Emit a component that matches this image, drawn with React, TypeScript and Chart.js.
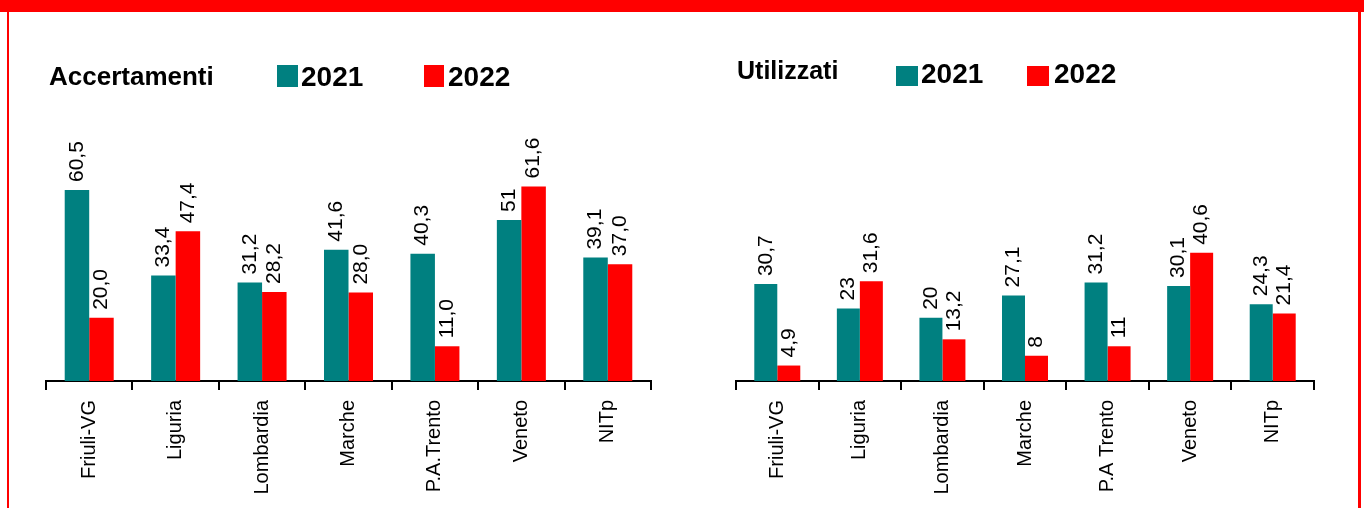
import React, { useEffect, useRef } from "react";
import { Chart, registerables } from "chart.js";

Chart.register(...registerables);

// ---------- DATA ----------
const categoriesAccertamenti = ["Friuli-VG", "Liguria", "Lombardia", "Marche", "P.A.Trento", "Veneto", "NITp"];
const categoriesUtilizzati = ["Friuli-VG", "Liguria", "Lombardia", "Marche", "P.A Trento", "Veneto", "NITp"];
const seriesNames = ["2021", "2022"];

const accertamenti2021 = [60.5, 33.4, 31.2, 41.6, 40.3, 51, 39.1];
const accertamenti2022 = [20.0, 47.4, 28.2, 28.0, 11.0, 61.6, 37.0];
const accertamenti2021Labels = ["60,5", "33,4", "31,2", "41,6", "40,3", "51", "39,1"];
const accertamenti2022Labels = ["20,0", "47,4", "28,2", "28,0", "11,0", "61,6", "37,0"];

const utilizzati2021 = [30.7, 23, 20, 27.1, 31.2, 30.1, 24.3];
const utilizzati2022 = [4.9, 31.6, 13.2, 8, 11, 40.6, 21.4];
const utilizzati2021Labels = ["30,7", "23", "20", "27,1", "31,2", "30,1", "24,3"];
const utilizzati2022Labels = ["4,9", "31,6", "13,2", "8", "11", "40,6", "21,4"];

const TEAL = "#008080";
const RED = "#FF0000";
const FONT = '"Liberation Sans", Arial, sans-serif';

// ---------- PLUGINS ----------
const valueLabelPlugin = {
  id: "valueLabels",
  afterDatasetsDraw(chart: any, _args: any, opts: any) {
    const ctx = chart.ctx;
    ctx.save();
    ctx.fillStyle = "#000";
    ctx.font = `${opts.size}px ${FONT}`;
    ctx.textAlign = "left";
    ctx.textBaseline = "middle";
    chart.data.datasets.forEach((ds: any, i: number) => {
      const meta = chart.getDatasetMeta(i);
      meta.data.forEach((bar: any, j: number) => {
        const txt = ds.valueLabels[j];
        ctx.save();
        ctx.translate(bar.x, bar.y - opts.gap);
        ctx.rotate(-Math.PI / 2);
        ctx.fillText(txt, 0, 0);
        ctx.restore();
      });
    });
    ctx.restore();
  },
};

const headerPlugin = {
  id: "header",
  afterDraw(chart: any, _args: any, opts: any) {
    const ctx = chart.ctx;
    ctx.save();
    ctx.textAlign = "left";
    ctx.textBaseline = "alphabetic";
    ctx.fillStyle = "#000";
    ctx.font = `bold ${opts.titleSize}px ${FONT}`;
    ctx.fillText(opts.title, opts.titleX, opts.titleY);
    chart.data.datasets.forEach((ds: any, i: number) => {
      const it = opts.items[i];
      ctx.fillStyle = ds.backgroundColor;
      ctx.fillRect(it.boxX, it.boxY, it.boxW, it.boxH);
      ctx.fillStyle = "#000";
      ctx.font = `bold ${opts.legendSize}px ${FONT}`;
      ctx.fillText(ds.label, it.textX, it.textY);
    });
    ctx.restore();
  },
};

type PanelProps = {
  left: number;
  width: number;
  categories: string[];
  v2021: number[];
  v2022: number[];
  l2021: string[];
  l2022: string[];
  padLeft: number;
  padRight: number;
  catPct: number;
  header: any;
};

function ChartPanel(p: PanelProps) {
  const ref = useRef<HTMLCanvasElement | null>(null);
  useEffect(() => {
    if (!ref.current) return;
    const chart = new Chart(ref.current, {
      type: "bar",
      data: {
        labels: p.categories,
        datasets: [
          {
            label: seriesNames[0],
            data: p.v2021,
            backgroundColor: TEAL,
            borderWidth: 0,
            barPercentage: 1,
            categoryPercentage: p.catPct,
            valueLabels: p.l2021,
          } as any,
          {
            label: seriesNames[1],
            data: p.v2022,
            backgroundColor: RED,
            borderWidth: 0,
            barPercentage: 1,
            categoryPercentage: p.catPct,
            valueLabels: p.l2022,
          } as any,
        ],
      },
      options: {
        responsive: false,
        maintainAspectRatio: false,
        animation: false,
        layout: { padding: { left: p.padLeft, right: p.padRight, top: 160, bottom: 0 } },
        plugins: {
          legend: { display: false },
          tooltip: { enabled: false },
          title: { display: false },
          valueLabels: { size: 21, gap: 8 },
          header: p.header,
        } as any,
        scales: {
          x: {
            type: "category",
            afterFit: (scale: any) => {
              scale.height = 127;
            },
            border: { display: true, color: "#000", width: 2 },
            grid: {
              display: true,
              drawOnChartArea: false,
              drawTicks: true,
              tickLength: 9,
              offset: true,
              color: "#000",
              lineWidth: 2,
            },
            ticks: {
              autoSkip: false,
              minRotation: 90,
              maxRotation: 90,
              padding: 10,
              color: "#000",
              font: { family: FONT, size: 20 },
            },
          },
          y: {
            display: false,
            min: 0,
            max: 70,
          },
        },
      },
      plugins: [valueLabelPlugin, headerPlugin],
    } as any);
    return () => chart.destroy();
  }, []);
  return (
    <canvas
      ref={ref}
      width={p.width}
      height={508}
      style={{ position: "absolute", left: p.left, top: 0, width: p.width, height: 508, display: "block" }}
    />
  );
}

export default function App() {
  const leftHeader = {
    title: "Accertamenti",
    titleX: 49,
    titleY: 85,
    titleSize: 26,
    legendSize: 28,
    items: [
      { boxX: 277, boxY: 65, boxW: 21, boxH: 22, textX: 301, textY: 86 },
      { boxX: 424, boxY: 65, boxW: 20, boxH: 22, textX: 448, textY: 86 },
    ],
  };
  const rightOffset = 682;
  const rightHeader = {
    title: "Utilizzati",
    titleX: 737 - rightOffset,
    titleY: 79,
    titleSize: 25,
    legendSize: 28,
    items: [
      { boxX: 896 - rightOffset, boxY: 66, boxW: 22, boxH: 20, textX: 921 - rightOffset, textY: 83 },
      { boxX: 1027 - rightOffset, boxY: 66, boxW: 22, boxH: 20, textX: 1054 - rightOffset, textY: 83 },
    ],
  };
  return (
    <div style={{ position: "fixed", left: 0, top: 0, width: 1364, height: 508, background: "#fff", overflow: "hidden" }}>
      <div style={{ position: "absolute", left: 0, top: 0, width: 1364, height: 12, background: RED }} />
      <div style={{ position: "absolute", left: 7, top: 0, width: 2, height: 508, background: RED }} />
      <div style={{ position: "absolute", left: 1358, top: 0, width: 3, height: 508, background: RED }} />
      <ChartPanel
        left={0}
        width={682}
        categories={categoriesAccertamenti}
        v2021={accertamenti2021}
        v2022={accertamenti2022}
        l2021={accertamenti2021Labels}
        l2022={accertamenti2022Labels}
        padLeft={46}
        padRight={682 - 651}
        catPct={0.567}
        header={leftHeader}
      />
      <ChartPanel
        left={rightOffset}
        width={682}
        categories={categoriesUtilizzati}
        v2021={utilizzati2021}
        v2022={utilizzati2022}
        l2021={utilizzati2021Labels}
        l2022={utilizzati2022Labels}
        padLeft={736 - rightOffset}
        padRight={682 - (1314 - rightOffset)}
        catPct={0.557}
        header={rightHeader}
      />
    </div>
  );
}
